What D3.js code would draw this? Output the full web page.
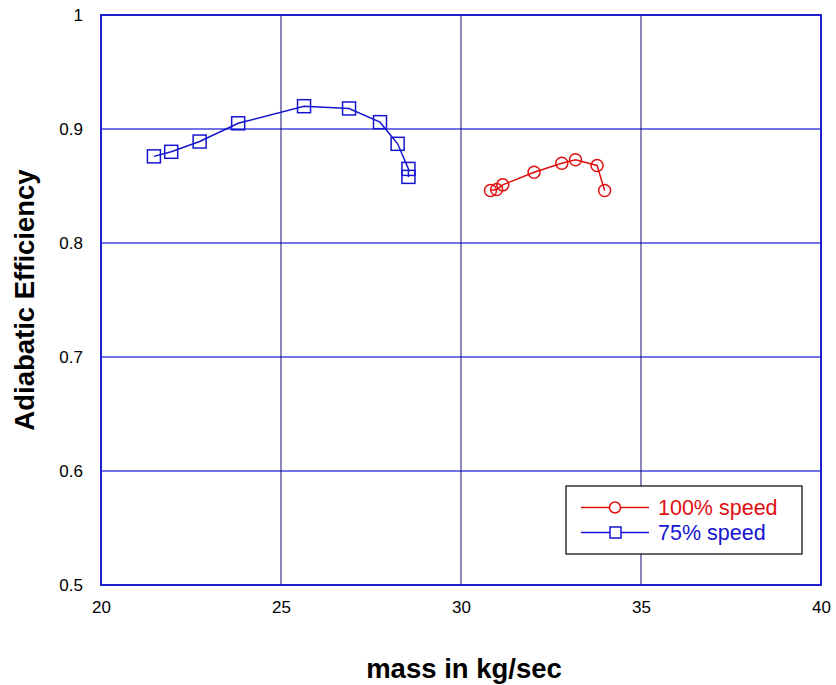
<!DOCTYPE html>
<html>
<head>
<meta charset="utf-8">
<script src="https://cdn.jsdelivr.net/npm/d3@7"></script>
<style>
  body { margin: 0; background: #fff; }
  text { font-family: Arial, "Liberation Sans", Helvetica, sans-serif; }
</style>
</head>
<body>
<script>
// data
const massFull = [30.82, 30.99, 31.16, 32.03, 32.80, 33.18, 33.78, 33.99];
const effFull  = [0.846, 0.847, 0.851, 0.862, 0.870, 0.873, 0.868, 0.846];

const mass75 = [21.47, 21.95, 22.74, 23.81, 25.64, 26.89, 27.75, 28.24, 28.54, 28.54];
const eff75  = [0.876, 0.880, 0.889, 0.905, 0.920, 0.918, 0.906, 0.887, 0.865, 0.858];

const xTicks = [20, 25, 30, 35, 40];
const yTicks = [0.5, 0.6, 0.7, 0.8, 0.9, 1];
const seriesNames = ["100% speed", "75% speed"];

const width = 836, height = 685;
const margin = {top: 15, right: 15, bottom: 100, left: 101};

const svg = d3.select("body").append("svg")
    .attr("width", width)
    .attr("height", height);

const x = d3.scaleLinear().domain([20, 40]).range([margin.left, width - margin.right]);
const y = d3.scaleLinear().domain([0.5, 1]).range([height - margin.bottom, margin.top]);

// gridlines
svg.append("g")
    .selectAll("line")
    .data(yTicks.slice(1, -1))
    .join("line")
    .attr("x1", x(20)).attr("x2", x(40))
    .attr("y1", d => y(d)).attr("y2", d => y(d))
    .attr("stroke", "#5050e0")
    .attr("stroke-width", 2)
    .attr("stroke-opacity", 0.8);

svg.append("g")
    .selectAll("line")
    .data(xTicks.slice(1, -1))
    .join("line")
    .attr("x1", d => x(d)).attr("x2", d => x(d))
    .attr("y1", y(0.5)).attr("y2", y(1))
    .attr("stroke", "#101070")
    .attr("stroke-width", 1);

// frame
svg.append("rect")
    .attr("x", x(20)).attr("y", y(1))
    .attr("width", x(40) - x(20)).attr("height", y(0.5) - y(1))
    .attr("fill", "none")
    .attr("stroke", "#2020d0")
    .attr("stroke-width", 2);

// axes, drawn with d3 axis then stripped to labels only
const xAxis = svg.append("g")
    .attr("transform", `translate(0,${y(0.5)})`)
    .call(d3.axisBottom(x).tickValues(xTicks).tickSize(0).tickPadding(16).tickFormat(d3.format("d")));
xAxis.select(".domain").remove();
xAxis.selectAll("text").attr("font-size", 17).attr("fill", "#000")
    .style("font-family", "Arial, 'Liberation Sans', sans-serif");

const yAxis = svg.append("g")
    .attr("transform", `translate(${x(20)},0)`)
    .call(d3.axisLeft(y).tickValues(yTicks).tickSize(0).tickPadding(18).tickFormat(d => d === 1 ? "1" : d3.format(".1f")(d)));
yAxis.select(".domain").remove();
yAxis.selectAll("text").attr("font-size", 17).attr("fill", "#000")
    .style("font-family", "Arial, 'Liberation Sans', sans-serif");

// axis titles
svg.append("text")
    .attr("x", 464).attr("y", 678)
    .attr("text-anchor", "middle")
    .attr("font-size", 27.5)
    .attr("font-weight", "bold")
    .text("mass in kg/sec");

svg.append("text")
    .attr("transform", "translate(34,300) rotate(-90)")
    .attr("text-anchor", "middle")
    .attr("font-size", 27.5)
    .attr("font-weight", "bold")
    .text("Adiabatic Efficiency");

const line = d3.line().x(d => x(d[0])).y(d => y(d[1]));

// 75% speed, blue squares
const pts75 = mass75.map((m, i) => [m, eff75[i]]);
svg.append("path")
    .datum(pts75)
    .attr("d", line)
    .attr("fill", "none")
    .attr("stroke", "#1515d0")
    .attr("stroke-width", 1.5);
svg.append("g")
    .selectAll("rect")
    .data(pts75)
    .join("rect")
    .attr("x", d => x(d[0]) - 6.5)
    .attr("y", d => y(d[1]) - 6.5)
    .attr("width", 13).attr("height", 13)
    .attr("fill", "none")
    .attr("stroke", "#1515d0")
    .attr("stroke-width", 1.5);

// 100% speed, red circles
const ptsFull = massFull.map((m, i) => [m, effFull[i]]);
svg.append("path")
    .datum(ptsFull)
    .attr("d", line)
    .attr("fill", "none")
    .attr("stroke", "#e01010")
    .attr("stroke-width", 1.5);
svg.append("g")
    .selectAll("circle")
    .data(ptsFull)
    .join("circle")
    .attr("cx", d => x(d[0]))
    .attr("cy", d => y(d[1]))
    .attr("r", 6)
    .attr("fill", "none")
    .attr("stroke", "#e01010")
    .attr("stroke-width", 1.5);

// legend
const legend = svg.append("g");
legend.append("rect")
    .attr("x", 566).attr("y", 486)
    .attr("width", 236).attr("height", 68)
    .attr("fill", "#fff")
    .attr("stroke", "#000")
    .attr("stroke-width", 1.2);

const legColors = ["#e01010", "#1515d0"];
seriesNames.forEach((name, i) => {
    const ly = 507.5 + i * 25;
    legend.append("line")
        .attr("x1", 581).attr("x2", 649)
        .attr("y1", ly).attr("y2", ly)
        .attr("stroke", legColors[i])
        .attr("stroke-width", 1.5);
    if (i === 0) {
        legend.append("circle")
            .attr("cx", 615).attr("cy", ly).attr("r", 5.5)
            .attr("fill", "#fff").attr("stroke", legColors[i]).attr("stroke-width", 1.5);
    } else {
        legend.append("rect")
            .attr("x", 610).attr("y", ly - 5.5).attr("width", 11).attr("height", 11)
            .attr("fill", "#fff").attr("stroke", legColors[i]).attr("stroke-width", 1.5);
    }
    legend.append("text")
        .attr("x", 658).attr("y", ly)
        .attr("dy", "0.36em")
        .attr("font-size", 21.5)
        .attr("fill", legColors[i])
        .text(name);
});
</script>
</body>
</html>
